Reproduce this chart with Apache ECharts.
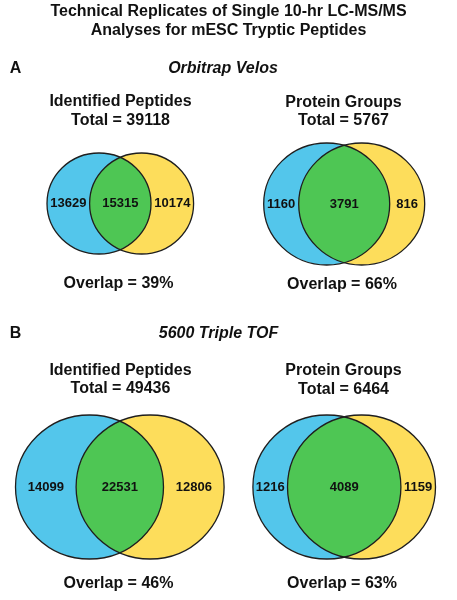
<!DOCTYPE html>
<html>
<head>
<meta charset="utf-8">
<script src="https://cdn.jsdelivr.net/npm/echarts@6/dist/echarts.min.js"></script>
<style>
  html, body { margin: 0; padding: 0; background: #fff; }
  #chart { width: 457px; height: 600px; }
</style>
</head>
<body>
<div id="chart"></div>
<script>
// ---- data ----
const mainTitleLines = ['Technical Replicates of Single 10-hr LC-MS/MS', 'Analyses for mESC Tryptic Peptides'];
const sectionLetters = ['A', 'B'];
const sectionTitles = ['Orbitrap Velos', '5600 Triple TOF'];
const panelTitles = ['Identified Peptides', 'Protein Groups', 'Identified Peptides', 'Protein Groups'];
const onlyRep1 = [13629, 1160, 14099, 1216];
const shared = [15315, 3791, 22531, 4089];
const onlyRep2 = [10174, 816, 12806, 1159];

// ---- layout (pixel space of the hidden axes) ----
const layout = [
  { mid: 120.3, half: 21.3, cy: 203.5, rx: 52, ry: 50.5, tx: 120.5, titleY: 102, totalY: 121, ovX: 118.5, ovY: 284 },
  { mid: 344.2, half: 17.5, cy: 204, rx: 63, ry: 61, tx: 343.5, titleY: 102.5, totalY: 121, ovX: 342, ovY: 285 },
  { mid: 119.8, half: 30.3, cy: 487, rx: 74, ry: 72, tx: 120.5, titleY: 370.5, totalY: 389, ovX: 118.5, ovY: 583.5 },
  { mid: 344.2, half: 17.3, cy: 487, rx: 74, ry: 72, tx: 343.5, titleY: 371, totalY: 389.5, ovX: 342, ovY: 584 }
];
const sectionY = [68.5, 333.5];
const sectionLetterX = 15.5;
const sectionTitleX = [223, 218.5];

const FONT = '"Liberation Sans", Arial, Helvetica, sans-serif';
const BLUE = '#53C6EB', YELLOW = '#FDDD5B', GREEN = '#4EC654', STROKE = '#1e1e1e';

const chart = echarts.init(document.getElementById('chart'), null, { renderer: 'canvas' });

function ellipsePath(cx, cy, rx, ry) {
  return 'M' + (cx - rx) + ' ' + cy +
    ' A' + rx + ' ' + ry + ' 0 1 1 ' + (cx + rx) + ' ' + cy +
    ' A' + rx + ' ' + ry + ' 0 1 1 ' + (cx - rx) + ' ' + cy + ' Z';
}

function renderVenn(params, api) {
  const i = api.value(0);
  const a = api.value(1), ab = api.value(2), b = api.value(3);
  const L = layout[i];
  const c = api.coord([L.mid, L.cy]);
  const sz = api.size([1, 1]);
  const sx = sz[0], sy = sz[1];
  const h = L.half * sx, rx = L.rx * sx, ry = L.ry * sy;
  const c1 = c[0] - h, c2 = c[0] + h, cy = c[1];
  const dy = ry * Math.sqrt(1 - (h / rx) * (h / rx));
  const top = [c[0], cy - dy], bot = [c[0], cy + dy];
  const lens = 'M' + top[0] + ' ' + top[1] +
    ' A' + rx + ' ' + ry + ' 0 0 1 ' + bot[0] + ' ' + bot[1] +
    ' A' + rx + ' ' + ry + ' 0 0 1 ' + top[0] + ' ' + top[1] + ' Z';
  const total = a + ab + b;
  const pct = Math.round(ab / total * 100);
  const numStyle = { fontFamily: FONT, fontWeight: 'bold', fontSize: 13, fill: '#111', align: 'center', verticalAlign: 'middle' };
  const headStyle = { fontFamily: FONT, fontWeight: 'bold', fontSize: 16, fill: '#111', align: 'center', verticalAlign: 'middle' };
  const tp = api.coord([L.tx, L.titleY]);
  const tt = api.coord([L.tx, L.totalY]);
  const ov = api.coord([L.ovX, L.ovY]);
  return {
    type: 'group',
    children: [
      { type: 'path', shape: { pathData: ellipsePath(c1, cy, rx, ry) }, style: { fill: BLUE, stroke: null } },
      { type: 'path', shape: { pathData: ellipsePath(c2, cy, rx, ry) }, style: { fill: YELLOW, stroke: null } },
      { type: 'path', shape: { pathData: lens }, style: { fill: GREEN, stroke: null } },
      { type: 'path', shape: { pathData: ellipsePath(c1, cy, rx, ry) }, style: { fill: null, stroke: STROKE, lineWidth: 1.3 } },
      { type: 'path', shape: { pathData: ellipsePath(c2, cy, rx, ry) }, style: { fill: null, stroke: STROKE, lineWidth: 1.3 } },
      { type: 'text', x: ((c1 - rx) + (c2 - rx)) / 2, y: cy, style: Object.assign({ text: String(a) }, numStyle) },
      { type: 'text', x: c[0], y: cy, style: Object.assign({ text: String(ab) }, numStyle) },
      { type: 'text', x: ((c1 + rx) + (c2 + rx)) / 2, y: cy, style: Object.assign({ text: String(b) }, numStyle) },
      { type: 'text', x: tp[0], y: tp[1], style: Object.assign({ text: panelTitles[i] }, headStyle) },
      { type: 'text', x: tt[0], y: tt[1], style: Object.assign({ text: 'Total = ' + total }, headStyle) },
      { type: 'text', x: ov[0], y: ov[1], style: Object.assign({ text: 'Overlap = ' + pct + '%' }, headStyle) }
    ]
  };
}

const titleBase = { fontFamily: FONT, fontWeight: 'bold', fontSize: 16, color: '#111' };

const titles = [
  { text: mainTitleLines[0], left: 228.5, top: 12, textAlign: 'center', textVerticalAlign: 'middle', padding: 0, textStyle: titleBase },
  { text: mainTitleLines[1], left: 228.5, top: 31, textAlign: 'center', textVerticalAlign: 'middle', padding: 0, textStyle: titleBase }
];

const graphics = [];
sectionLetters.forEach(function (s, k) {
  graphics.push({ type: 'text', x: sectionLetterX, y: sectionY[k], style: { text: s, fontFamily: FONT, fontWeight: 'bold', fontSize: 16, fill: '#111', align: 'center', verticalAlign: 'middle' } });
  graphics.push({ type: 'text', x: sectionTitleX[k], y: sectionY[k], style: { text: sectionTitles[k], fontFamily: FONT, fontWeight: 'bold', fontStyle: 'italic', fontSize: 16, fill: '#111', align: 'center', verticalAlign: 'middle' } });
});
graphics.push({ type: 'text', x: 228.5, y: 12, style: { text: mainTitleLines[0], fontFamily: FONT, fontWeight: 'bold', fontSize: 16, fill: '#111', align: 'center', verticalAlign: 'middle' } });
graphics.push({ type: 'text', x: 228.5, y: 31, style: { text: mainTitleLines[1], fontFamily: FONT, fontWeight: 'bold', fontSize: 16, fill: '#111', align: 'center', verticalAlign: 'middle' } });

const option = {
  backgroundColor: '#fff',
  animation: false,
  grid: { left: 0, right: 0, top: 0, bottom: 0 },
  xAxis: { type: 'value', min: 0, max: 457, show: false },
  yAxis: { type: 'value', min: 0, max: 600, inverse: true, show: false },
  graphic: graphics,
  series: [{
    type: 'custom',
    renderItem: renderVenn,
    silent: true,
    clip: false,
    data: panelTitles.map(function (t, i) { return [i, onlyRep1[i], shared[i], onlyRep2[i]]; })
  }]
};
chart.setOption(option);
</script>
</body>
</html>
